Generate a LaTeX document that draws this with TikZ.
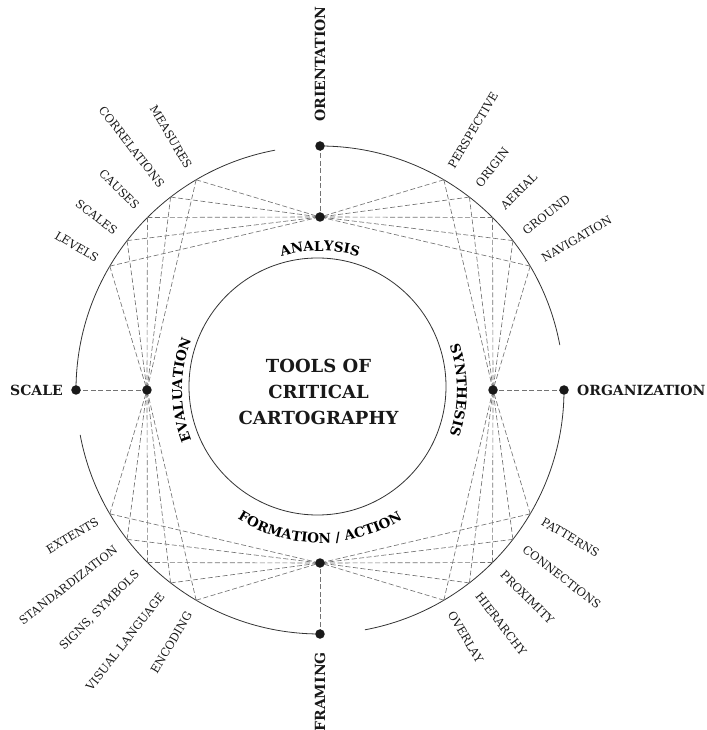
\documentclass[tikz,border=0pt]{standalone}
\usepackage{fontspec}
\setmainfont{DejaVu Serif}
\usetikzlibrary{decorations.text}

\tikzset{
    dot/.style={circle,fill=black!90,inner sep=0pt,minimum size=9.5pt},
    rim/.style={black!80,line width=0.8pt},
    ray/.style={black!55,line width=0.65pt,dash pattern=on 5pt off 2.5pt},
    tag/.style={inner sep=0pt,text=black!90,font=\fontsize{11.5}{13}\selectfont},
    mainlabel/.style={inner sep=0pt,text=black!90,font=\bfseries\fontsize{14}{16}\selectfont},
    title/.style={align=center,text=black!90,font=\bfseries\fontsize{18}{26}\selectfont}
}
\newcommand{\stationfont}{\bfseries\fontsize{13.5}{16}\selectfont}

\begin{document}
\begin{tikzpicture}[x=1pt,y=1pt]
    \useasboundingbox (-320,-340) rectangle (386,390);

    % Stations
    \coordinate (orientation) at (90:244);
    \coordinate (scale) at (180:244);
    \coordinate (framing) at (270:244);
    \coordinate (organization) at (0:244);
    \coordinate (analysis) at (90:173);
    \coordinate (evaluation) at (180:173);
    \coordinate (formation) at (270:173);
    \coordinate (synthesis) at (0:173);

    % Cercles
    \draw[rim] (-2.5,3.5) circle (128.5);
    \foreach \s/\n in {90/orientation,180/scale,270/framing,0/organization}
        \draw[rim] (\n) arc[start angle=\s,delta angle=-79.4,radius=244];

    % Rayons
    \draw[ray] (orientation) -- (analysis);
    \draw[ray] (scale) -- (evaluation);
    \draw[ray] (framing) -- (formation);
    \draw[ray] (organization) -- (synthesis);

    % Haut gauche
    \foreach \t [count=\i] in {MEASURES,CORRELATIONS,CAUSES,SCALES,LEVELS} {
        \pgfmathsetmacro\a{113.25+7.25*\i}
        \coordinate (tl-\i) at (\a:244);
        \draw[ray] (tl-\i) -- (analysis) (tl-\i) -- (evaluation);
        \node[tag,anchor=east,rotate=\a-180] (tl-tag-\i) at (\a:258) {\t};
    }
    % Haut droite
    \foreach \t [count=\i] in {PERSPECTIVE,ORIGIN,AERIAL,GROUND,NAVIGATION} {
        \pgfmathsetmacro\a{66.75-7.25*\i}
        \coordinate (tr-\i) at (\a:244);
        \draw[ray] (tr-\i) -- (analysis) (tr-\i) -- (synthesis);
        \node[tag,anchor=west,rotate=\a] (tr-tag-\i) at (\a:258) {\t};
    }
    % Bas gauche
    \foreach \t [count=\i] in {EXTENTS,STANDARDIZATION,{SIGNS, SYMBOLS},VISUAL LANGUAGE,ENCODING} {
        \pgfmathsetmacro\a{203.25+7.25*\i}
        \coordinate (bl-\i) at (\a:244);
        \draw[ray] (bl-\i) -- (evaluation) (bl-\i) -- (formation);
        \node[tag,anchor=east,rotate=\a-180] (bl-tag-\i) at (\a:258) {\t};
    }
    % Bas droite
    \foreach \t [count=\i] in {PATTERNS,CONNECTIONS,PROXIMITY,HIERARCHY,OVERLAY} {
        \pgfmathsetmacro\a{336.75-7.25*\i}
        \coordinate (br-\i) at (\a:244);
        \draw[ray] (br-\i) -- (formation) (br-\i) -- (synthesis);
        \node[tag,anchor=west,rotate=\a] (br-tag-\i) at (\a:258) {\t};
    }

    % Points
    \foreach \n in {orientation,scale,framing,organization,analysis,evaluation,formation,synthesis}
        \node[dot] (\n-dot) at (\n) {};

    % Textes principaux
    \node[mainlabel,rotate=90,anchor=west] (orientation-label) at (0,268) {ORIENTATION};
    \node[mainlabel,rotate=90,anchor=east] (framing-label) at (0,-262) {FRAMING};
    \node[mainlabel,anchor=east] (scale-label) at (-257,0) {SCALE};
    \node[mainlabel,anchor=west] (organization-label) at (257,0) {ORGANIZATION};

    % Textes courbes
    \path[decorate,decoration={text along path,text align=center,text={|\stationfont|ANALYSIS}}]
        (125:139) arc[start angle=125,end angle=55,radius=139];
    \path[decorate,decoration={text along path,text align=center,text={|\stationfont|SYNTHESIS}}]
        (35:137) arc[start angle=35,end angle=-35,radius=137];
    \path[decorate,decoration={text along path,text align=center,text={|\stationfont|EVALUATION}}]
        (215:138) arc[start angle=215,end angle=145,radius=138];
    \path[decorate,decoration={text along path,text align=center,text={|\stationfont|FORMATION / ACTION}}]
        (215:153) arc[start angle=215,end angle=325,radius=153];

    % Centre
    \node[title] (title) at (-1.5,-2) {TOOLS OF\\CRITICAL\\CARTOGRAPHY};
\end{tikzpicture}
\end{document}
